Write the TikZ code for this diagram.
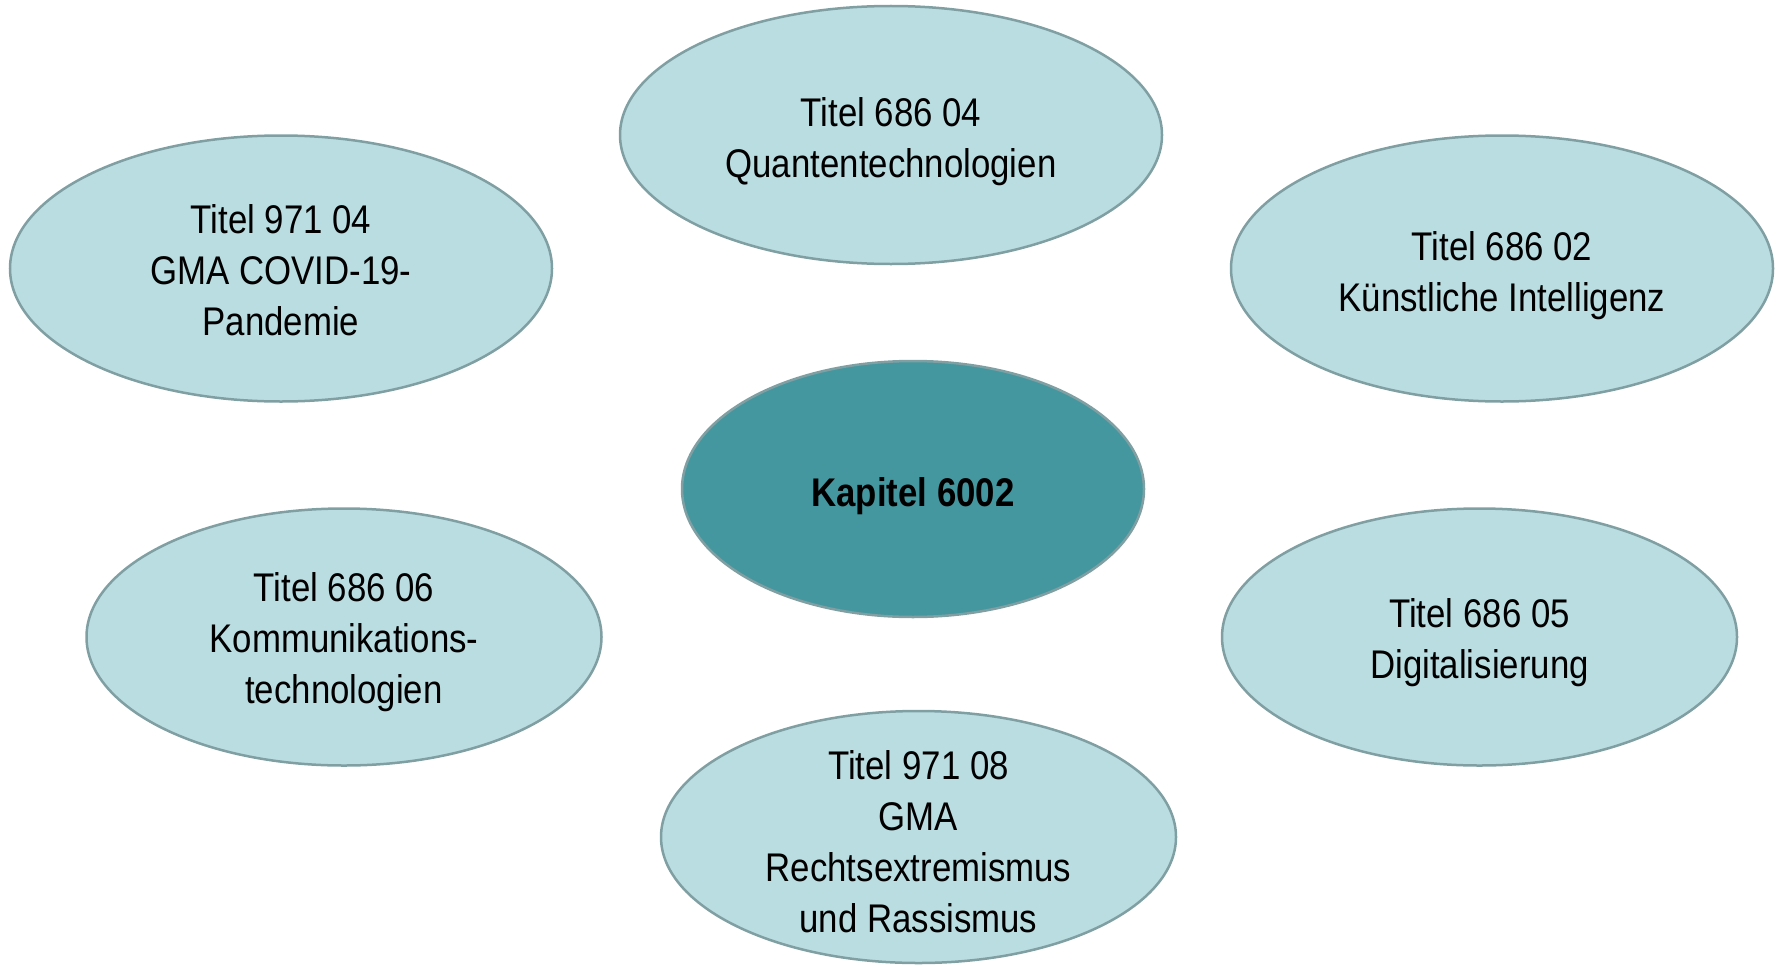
\documentclass[tikz,border=0pt]{standalone}
\usepackage{fontspec}
\setmainfont{Liberation Sans}[FakeStretch=0.87]
\usetikzlibrary{shapes.geometric}
\definecolor{lightfill}{HTML}{B9DDE1}
\definecolor{edgecol}{HTML}{7F9FA3}
\definecolor{centerfill}{HTML}{45979F}
\begin{document}
\begin{tikzpicture}[x=1pt,y=-1pt,
  oval/.style={ellipse, draw=edgecol, line width=2.5pt, fill=lightfill, inner sep=0pt},
  hub/.style={oval, fill=centerfill},
  txt/.style={align=center, inner sep=0pt, font=\fontsize{40}{51}\selectfont},
  hubtxt/.style={txt, font=\fontsize{40}{51}\selectfont\bfseries}]
\useasboundingbox (0,0) rectangle (1777,966);
\node[oval, minimum width=542pt, minimum height=258pt] (q) at (891,135) {};
\node[oval, minimum width=542pt, minimum height=266pt] (covid) at (281,268.5) {};
\node[oval, minimum width=542pt, minimum height=266pt] (ki) at (1502,268.5) {};
\node[hub, minimum width=462pt, minimum height=256pt] (kap) at (913,489) {};
\node[oval, minimum width=515pt, minimum height=257pt] (komm) at (344,637) {};
\node[oval, minimum width=515pt, minimum height=257pt] (dig) at (1479.5,637) {};
\node[oval, minimum width=515pt, minimum height=252pt] (rex) at (918.5,837) {};
\node[txt] (qt) at ([yshift=-7pt]q.center) {Titel 686 04\\Quantentechnologien};
\node[txt] (covidt) at ([yshift=-2pt]covid.center) {Titel 971 04\\GMA COVID-19-\\Pandemie};
\node[txt] (kit) at ([yshift=-7pt]ki.center) {Titel 686 02\\Künstliche Intelligenz};
\node[hubtxt] (kapt) at ([yshift=-7pt]kap.center) {Kapitel 6002};
\node[txt] (kommt) at ([yshift=-5pt]komm.center) {Titel 686 06\\Kommunikations-\\technologien};
\node[txt] (digt) at ([yshift=-6pt]dig.center) {Titel 686 05\\Digitalisierung};
\node[txt] (rext) at ([yshift=-5pt]rex.center) {Titel 971 08\\GMA\\Rechtsextremismus\\und Rassismus};
\end{tikzpicture}
\end{document}
